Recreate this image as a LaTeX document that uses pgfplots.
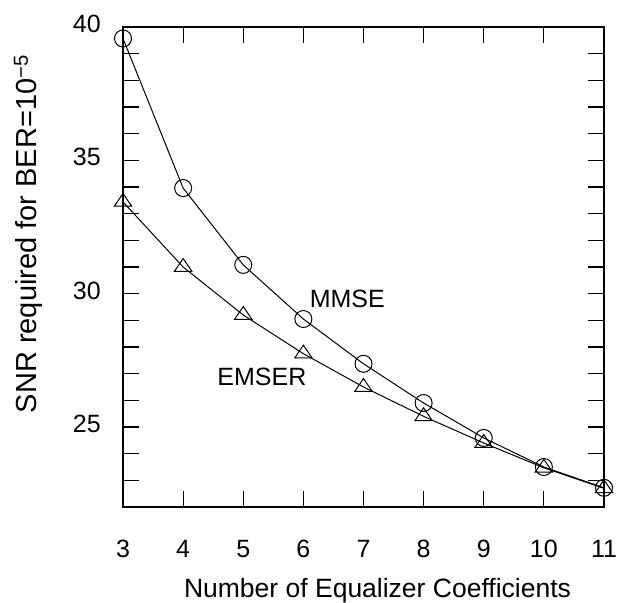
\documentclass[border=0pt]{standalone}
\usepackage{pgfplots}
\pgfplotsset{compat=1.18}
\usepackage{fontspec}
\setmainfont{Liberation Sans}
\setsansfont{Liberation Sans}
\begin{document}
\begin{tikzpicture}
\begin{axis}[
  scale only axis,
  width=481pt, height=480pt,
  xmin=3, xmax=11, ymin=22, ymax=40,
  xtick={3,...,11},
  ytick={25,30,35,40},
  minor ytick={22,...,40},
  tick align=inside,
  major tick length=16pt,
  minor tick length=16pt,
  tick style={line width=1.2pt, black},
  axis line style={line width=1.4pt},
  /pgf/number format/assume math mode=true,
  ticklabel style={font=\fontsize{25}{30}\selectfont},
  xticklabel style={anchor=base, inner sep=0pt, yshift=-50pt},
  yticklabel style={anchor=east, inner sep=0pt, xshift=-22pt, yshift=3pt},
  xlabel={Number of Equalizer Coefficients},
  ylabel={SNR required for BER=10\textsuperscript{−5}},
  xlabel style={font=\fontsize{26.5}{30}\selectfont, at={([shift={(14pt,-90pt)}]axis description cs:0.5,0)}, anchor=base, inner sep=0pt},
  ylabel style={font=\fontsize{29}{33}\selectfont, at={([shift={(-86pt,33pt)}]axis description cs:0,0.5)}, anchor=base, inner sep=0pt},
  clip=false,
]
\addplot[black, line width=1pt, mark=o, mark size=8.5pt, mark options={fill=white, line width=1pt}]
coordinates {(3,39.57) (4,33.96) (5,31.08) (6,29.05) (7,27.37) (8,25.9) (9,24.59) (10,23.5) (11,22.72)};
\addplot[black, line width=1pt, mark=triangle, mark size=10pt, mark options={fill=white, line width=1pt, yscale=0.85}]
coordinates {(3,33.44) (4,31.0) (5,29.2) (6,27.75) (7,26.5) (8,25.4) (9,24.4) (10,23.47) (11,22.7)};
\node[font=\fontsize{25}{30}\selectfont] at (axis cs:6.73,29.8) {MMSE};
\node[font=\fontsize{25}{30}\selectfont] at (axis cs:5.31,26.88) {EMSER};
\end{axis}
\path ([shift={(-123pt,-95pt)}]current axis.south west) rectangle ([shift={(15pt,27pt)}]current axis.north east);
\end{tikzpicture}
\end{document}
